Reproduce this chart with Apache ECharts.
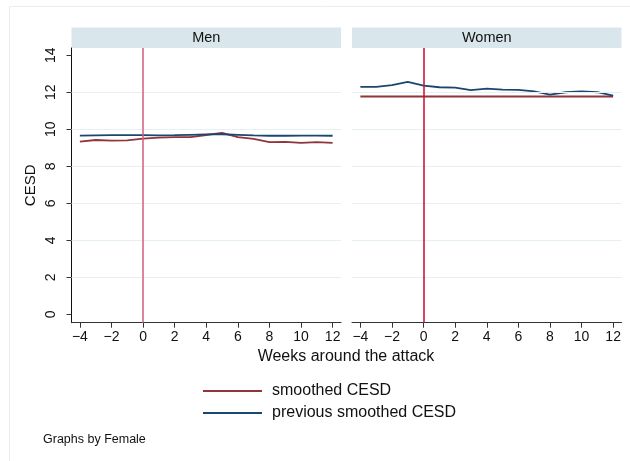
<!DOCTYPE html>
<html><head><meta charset="utf-8">
<script src="https://cdn.jsdelivr.net/npm/echarts@6/dist/echarts.min.js"></script>
<style>html,body{margin:0;padding:0;background:#fff}#c{width:630px;height:461px}</style>
</head><body><div id="c"></div>
<script>
const weeks = [-4,-3,-2,-1,0,1,2,3,4,5,6,7,8,9,10,11,12];
const menSmoothed   = [9.33,9.42,9.39,9.40,9.49,9.55,9.57,9.58,9.69,9.80,9.57,9.48,9.30,9.32,9.26,9.30,9.26];
const menPrevious   = [9.66,9.67,9.68,9.68,9.68,9.67,9.68,9.70,9.72,9.73,9.70,9.67,9.65,9.65,9.66,9.66,9.65];
const womenSmoothed = [11.77,11.77,11.77,11.77,11.77,11.77,11.77,11.77,11.77,11.77,11.77,11.77,11.77,11.77,11.77,11.77,11.77];
const womenPrevious = [12.29,12.29,12.38,12.56,12.36,12.27,12.25,12.11,12.20,12.14,12.13,12.05,11.87,12.00,12.05,12.00,11.82];
const xTicks = [-4,-2,0,2,4,6,8,10,12];
const yTicks = [0,2,4,6,8,10,12,14];
const gridVals = [2,4,6,8,10,12];
const panels = ['Men','Women'];
const seriesNames = ['smoothed CESD','previous smoothed CESD'];
const eventWeek = 0;

const RED = '#90353b', BLUE = '#1a476f';
const FONT = '"Liberation Sans", Arial, Helvetica, sans-serif';
const pairs = (ys) => weeks.map((w,i)=>[w, ys[i]]);

const xAxisBase = (gi) => ({
  gridIndex: gi, type: 'value', min: -4.53, max: 12.53,
  axisLine: {show: true, onZero: false, lineStyle: {color: '#333', width: 1}},
  axisTick: {show: true, length: 5, customValues: xTicks, lineStyle: {color: '#333'}},
  axisLabel: {customValues: xTicks, color: '#111', fontSize: 14, fontFamily: FONT, margin: 7,
              formatter: v => v < 0 ? '\u2212' + Math.abs(v) : String(v)},
  splitLine: {show: false}
});
const yAxisBase = (gi, show) => ({
  gridIndex: gi, type: 'value', min: -0.45, max: 14.39,
  axisLine: {show: show, onZero: false, lineStyle: {color: '#111', width: 1}},
  axisTick: {show: show, length: 5, customValues: yTicks, lineStyle: {color: '#333'}},
  axisLabel: {show: show, customValues: yTicks, rotate: 90, color: '#111', fontSize: 14, fontFamily: FONT, margin: 13},
  splitLine: {show: false},
  name: show ? 'CESD' : '', nameLocation: 'middle', nameRotate: 90, nameGap: 33,
  nameTextStyle: {color: '#111', fontSize: 15, fontFamily: FONT}
});

const gridLineSeries = (gi) => ({
  type: 'line', xAxisIndex: gi, yAxisIndex: gi, data: [], z: 1, silent: true,
  markLine: {silent: true, symbol: 'none', label: {show: false},
    lineStyle: {color: '#e6eff1', width: 1, type: 'solid'},
    data: gridVals.map(v => ({yAxis: v}))}
});
const vline = (gi, color) => ({
  type: 'line', xAxisIndex: gi, yAxisIndex: gi, data: [], z: 5, silent: true,
  markLine: {silent: true, symbol: 'none', label: {show: false}, animation: false,
    lineStyle: {color: color, width: 1.5, type: 'solid'},
    data: [{xAxis: eventWeek}]}
});
const lineS = (gi, name, ys, color) => ({
  type: 'line', name: name, xAxisIndex: gi, yAxisIndex: gi, data: pairs(ys),
  showSymbol: false, symbol: 'none', z: 3, color: color,
  lineStyle: {color: color, width: 1.8}
});

const strips = [[71.5, 341], [352, 621.5]];
const graphic = [];
strips.forEach((s, i) => {
  graphic.push({type: 'rect', shape: {x: s[0], y: 27.5, width: s[1]-s[0], height: 20.5}, style: {fill: '#d9e6eb'}, z: 0});
  graphic.push({type: 'text', x: (s[0]+s[1])/2, y: 38, style: {text: panels[i], fill: '#111', font: '14.5px ' + FONT, textAlign: 'center', textVerticalAlign: 'middle'}});
});
graphic.push({type: 'rect', shape: {x: 9.5, y: 6.5, width: 640, height: 470}, style: {fill: 'none', stroke: '#e6eff1', lineWidth: 1}, z: -1});
graphic.push({type: 'text', x: 346, y: 357, style: {text: 'Weeks around the attack', fill: '#111', font: '16px ' + FONT, textAlign: 'center', textVerticalAlign: 'middle'}});
graphic.push({type: 'text', x: 43, y: 440, style: {text: 'Graphs by Female', fill: '#111', font: '12.5px ' + FONT, textAlign: 'left', textVerticalAlign: 'middle'}});

const option = {
  animation: false,
  backgroundColor: '#fff',
  grid: [
    {left: 71.5, top: 48, width: 269.5, height: 274.7, containLabel: false},
    {left: 352, top: 48, width: 269.5, height: 274.7, containLabel: false}
  ],
  xAxis: [xAxisBase(0), xAxisBase(1)],
  yAxis: [yAxisBase(0, true), yAxisBase(1, false)],
  legend: {
    data: seriesNames, orient: 'vertical', left: 203, top: 383, itemGap: 6, padding: 0,
    icon: 'rect', itemWidth: 59, itemHeight: 2.2, selectedMode: false,
    textStyle: {color: '#111', fontSize: 16, fontFamily: FONT, padding: [0,0,0,5]}
  },
  graphic: graphic,
  series: [
    gridLineSeries(0), gridLineSeries(1),
    lineS(0, seriesNames[0], menSmoothed, RED),
    lineS(0, seriesNames[1], menPrevious, BLUE),
    lineS(1, seriesNames[0], womenSmoothed, RED),
    lineS(1, seriesNames[1], womenPrevious, BLUE),
    vline(0, '#d35d7e'), vline(1, '#cc0a2e')
  ]
};
echarts.init(document.getElementById('c')).setOption(option);
</script></body></html>
